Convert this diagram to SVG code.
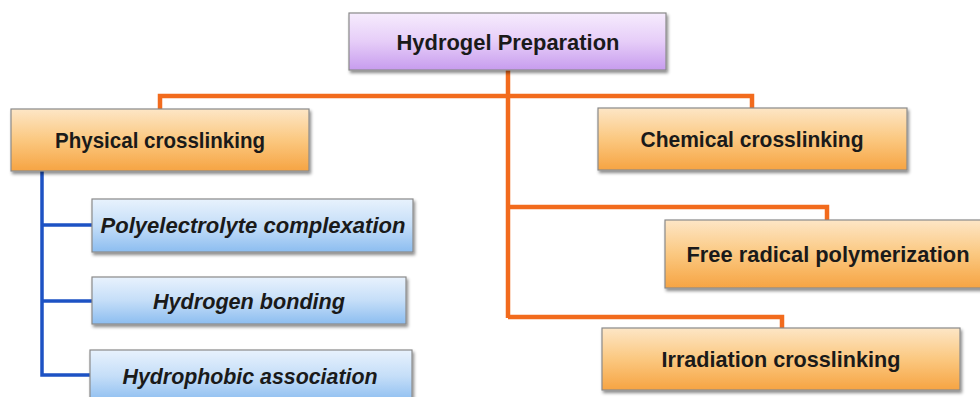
<svg xmlns="http://www.w3.org/2000/svg" width="980" height="397" viewBox="0 0 980 397">
<defs>
<linearGradient id="gP" x1="0" y1="0" x2="0" y2="1"><stop offset="0" stop-color="#f6ecfd"/><stop offset="0.5" stop-color="#e6cdf8"/><stop offset="1" stop-color="#c79cee"/></linearGradient>
<linearGradient id="gO" x1="0" y1="0" x2="0" y2="1"><stop offset="0" stop-color="#fde6c6"/><stop offset="0.5" stop-color="#fbc880"/><stop offset="1" stop-color="#f6a443"/></linearGradient>
<linearGradient id="gB" x1="0" y1="0" x2="0" y2="1"><stop offset="0" stop-color="#e8f2fd"/><stop offset="0.5" stop-color="#c5def8"/><stop offset="1" stop-color="#8cbdf0"/></linearGradient>
<filter id="sh" x="-5%" y="-10%" width="112%" height="130%"><feDropShadow dx="1.5" dy="2.5" stdDeviation="1.5" flood-color="#000" flood-opacity="0.45"/></filter>
</defs>
<style>
.box{stroke:#8a8a8a;stroke-width:1.2;filter:url(#sh)}
.p{fill:url(#gP)}
.o{fill:url(#gO)}
.b{fill:url(#gB)}
text{font-family:"Liberation Sans",Arial,sans-serif;font-weight:bold;font-size:22px;fill:#1a1a1a;text-anchor:middle}
.it{font-style:italic}
.or{stroke:#f26b1d;stroke-width:4.5;fill:none}
.bl{stroke:#1d52c4;stroke-width:3.5;fill:none}
</style>
<rect width="980" height="397" fill="#fff"/>
<g id="connectors">
<path class="or" d="M508 70 V318"/>
<path class="or" d="M160 110 V96 H752 V108"/>
<path class="or" d="M508 207 H827 V220"/>
<path class="or" d="M508 317 H782 V328"/>
<path class="bl" d="M42 171 V375 H90"/>
<path class="bl" d="M42 225 H92"/>
<path class="bl" d="M42 301 H92"/>
</g>
<g id="hydrogel-preparation"><rect class="box p" x="349" y="13" width="317" height="57"/><text x="508" y="50" textLength="223" lengthAdjust="spacingAndGlyphs">Hydrogel Preparation</text></g>
<g id="physical-crosslinking"><rect class="box o" x="11" y="109" width="298" height="62"/><text x="160" y="148" textLength="210" lengthAdjust="spacingAndGlyphs">Physical crosslinking</text></g>
<g id="chemical-crosslinking"><rect class="box o" x="598" y="108" width="309" height="62"/><text x="752" y="147" textLength="223" lengthAdjust="spacingAndGlyphs">Chemical crosslinking</text></g>
<g id="polyelectrolyte-complexation"><rect class="box b" x="92" y="199" width="321" height="53"/><text class="it" x="253" y="233" textLength="305" lengthAdjust="spacingAndGlyphs">Polyelectrolyte complexation</text></g>
<g id="hydrogen-bonding"><rect class="box b" x="92" y="277" width="314" height="47"/><text class="it" x="249" y="309" textLength="192" lengthAdjust="spacingAndGlyphs">Hydrogen bonding</text></g>
<g id="hydrophobic-association"><rect class="box b" x="90" y="350" width="322" height="52"/><text class="it" x="250" y="384" textLength="255" lengthAdjust="spacingAndGlyphs">Hydrophobic association</text></g>
<g id="free-radical-polymerization"><rect class="box o" x="665" y="220" width="318" height="68"/><text x="828" y="262" textLength="283" lengthAdjust="spacingAndGlyphs">Free radical polymerization</text></g>
<g id="irradiation-crosslinking"><rect class="box o" x="602" y="328" width="358" height="62"/><text x="781" y="367" textLength="239" lengthAdjust="spacingAndGlyphs">Irradiation crosslinking</text></g>
</svg>
